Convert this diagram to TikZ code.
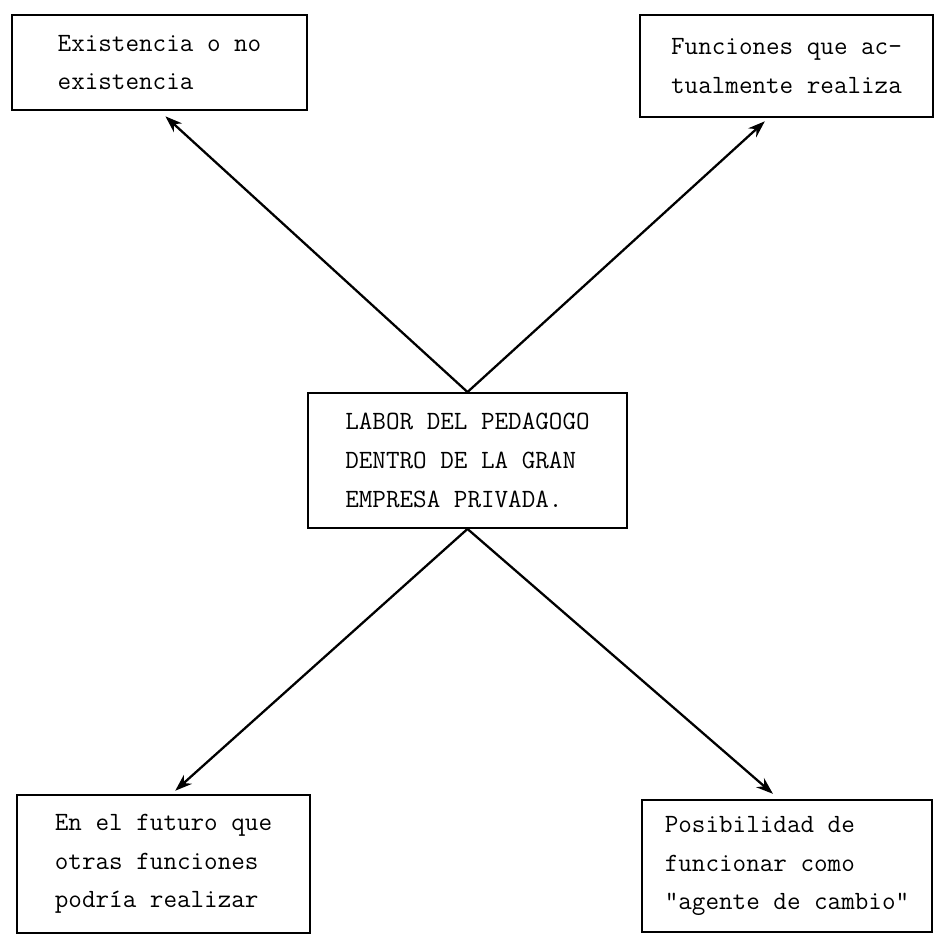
\documentclass[tikz,border=0pt]{standalone}
\usepackage{fontspec}
\usetikzlibrary{arrows.meta}

\tikzset{
  box/.style={draw, line width=1.1pt, align=left, inner sep=0pt,
    font=\ttfamily\fontsize{15}{22}\selectfont},
  link/.style={line width=1.3pt, -{Stealth[length=0.34cm,width=0.24cm]}}
}

\begin{document}
\begin{tikzpicture}[x=0.02cm, y=-0.02cm]
  \useasboundingbox (0,0) rectangle (941,939);
  % boxes
  \node[box, minimum width=5.9cm, minimum height=1.9cm] (exist) at (159.5,62.5)
    {Existencia o no\\existencia};
  \node[box, minimum width=5.86cm, minimum height=2.04cm] (func) at (786.5,66)
    {Funciones que ac-\\tualmente realiza};
  \node[box, minimum width=6.38cm, minimum height=2.7cm] (labor) at (467.5,460.5)
    {LABOR DEL PEDAGOGO\\DENTRO DE LA GRAN\\EMPRESA PRIVADA.};
  \node[box, minimum width=5.86cm, minimum height=2.76cm] (futuro) at (163.5,864)
    {En el futuro que\\otras funciones\\podría realizar};
  \node[box, minimum width=5.8cm, minimum height=2.64cm] (cambio) at (787,866)
    {Posibilidad de\\funcionar como\\"agente de cambio"};
  % arrows
  \draw[link, shorten >=0.16cm] (labor.north) -- (exist.south);
  \draw[link, shorten >=0.1cm] (labor.north) -- ([xshift=-0.36cm]func.south);
  \draw[link, shorten >=0.1cm] (labor.south) -- ([xshift=0.16cm]futuro.north);
  \draw[link, shorten >=0.16cm] (labor.south) -- ([xshift=-0.16cm]cambio.north);
\end{tikzpicture}
\end{document}
